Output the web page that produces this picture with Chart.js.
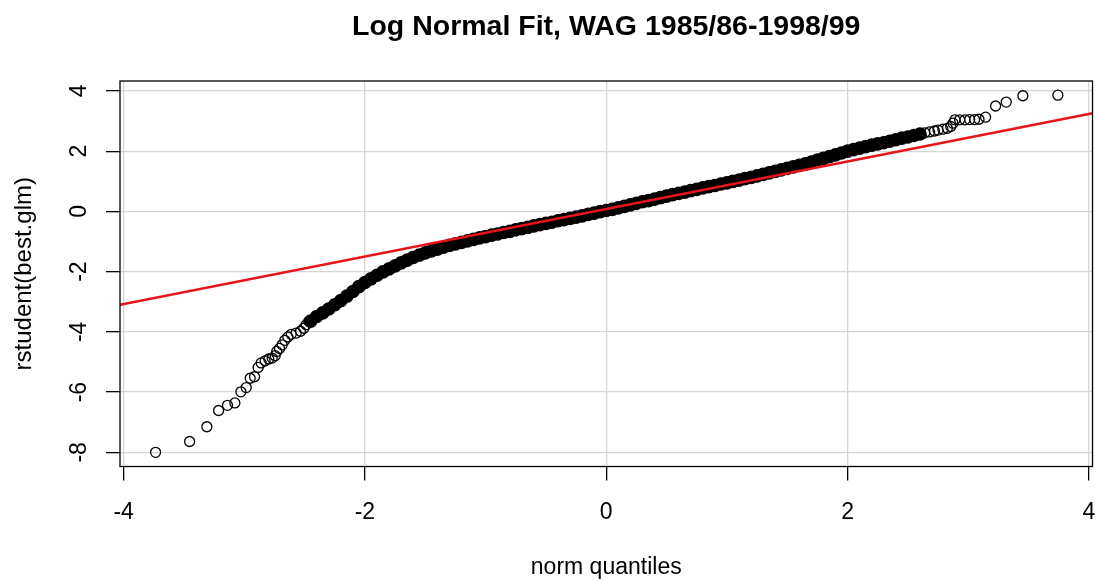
<!DOCTYPE html>
<html><head><meta charset="utf-8">
<script src="https://cdn.jsdelivr.net/npm/chart.js@4.4.1/dist/chart.umd.min.js"></script>
<style>html,body{margin:0;padding:0;background:#fff;}canvas{display:block;}</style>
</head><body>
<canvas id="c" width="1100" height="581"></canvas>
<script>
const titleText = 'Log Normal Fit, WAG 1985/86-1998/99';
const xAxisTitle = 'norm quantiles';
const yAxisTitle = 'rstudent(best.glm)';
const xTickValues = [-4, -2, 0, 2, 4];
const xTickLabels = ['-4', '-2', '0', '2', '4'];
const yTickValues = [-8, -6, -4, -2, 0, 2, 4];
const yTickLabels = ['-8', '-6', '-4', '-2', '0', '2', '4'];

// lower tail (individual points)
const lowTailX = [-3.735, -3.453, -3.310, -3.213, -3.139, -3.078, -3.028, -2.984, -2.951, -2.915, -2.885, -2.860, -2.827, -2.797, -2.769, -2.744, -2.731, -2.708, -2.686, -2.664, -2.639, -2.611, -2.570, -2.534, -2.507, -2.487, -2.465];
const lowTailY = [-8.00, -7.64, -7.15, -6.61, -6.44, -6.36, -5.99, -5.85, -5.54, -5.49, -5.18, -5.03, -4.96, -4.90, -4.87, -4.79, -4.65, -4.55, -4.43, -4.28, -4.17, -4.08, -4.04, -3.98, -3.88, -3.76, -3.65];

// dense body of the Q-Q plot
const bodyX = [-2.45, -2.40, -2.35, -2.30, -2.25, -2.20, -2.15, -2.10, -2.05, -2.00, -1.95, -1.90, -1.85, -1.80, -1.75, -1.70, -1.65, -1.60, -1.55, -1.50, -1.45, -1.40, -1.35, -1.30, -1.25, -1.20, -1.15, -1.10, -1.05, -1.00, -0.95, -0.90, -0.85, -0.80, -0.75, -0.70, -0.65, -0.60, -0.55, -0.50, -0.45, -0.40, -0.35, -0.30, -0.25, -0.20, -0.15, -0.10, -0.05, 0.00, 0.05, 0.10, 0.15, 0.20, 0.25, 0.30, 0.35, 0.40, 0.45, 0.50, 0.55, 0.60, 0.65, 0.70, 0.75, 0.80, 0.85, 0.90, 0.95, 1.00, 1.05, 1.10, 1.15, 1.20, 1.25, 1.30, 1.35, 1.40, 1.45, 1.50, 1.55, 1.60, 1.65, 1.70, 1.75, 1.80, 1.85, 1.90, 1.95, 2.00, 2.05, 2.10, 2.15, 2.20, 2.25, 2.30, 2.35, 2.40, 2.45, 2.50, 2.55, 2.60];
const bodyY = [-3.64, -3.49, -3.37, -3.24, -3.10, -2.96, -2.81, -2.66, -2.50, -2.36, -2.24, -2.12, -2.01, -1.91, -1.81, -1.71, -1.62, -1.53, -1.45, -1.38, -1.31, -1.25, -1.19, -1.13, -1.08, -1.03, -0.98, -0.93, -0.88, -0.84, -0.79, -0.75, -0.70, -0.66, -0.61, -0.57, -0.53, -0.48, -0.44, -0.40, -0.36, -0.31, -0.27, -0.23, -0.19, -0.15, -0.10, -0.06, -0.01, 0.03, 0.07, 0.12, 0.17, 0.22, 0.27, 0.32, 0.36, 0.41, 0.46, 0.51, 0.56, 0.60, 0.64, 0.69, 0.73, 0.78, 0.82, 0.86, 0.91, 0.95, 1.00, 1.04, 1.09, 1.13, 1.18, 1.23, 1.28, 1.33, 1.38, 1.43, 1.48, 1.53, 1.58, 1.64, 1.70, 1.76, 1.82, 1.88, 1.94, 2.00, 2.05, 2.10, 2.15, 2.20, 2.24, 2.28, 2.33, 2.38, 2.43, 2.47, 2.52, 2.57];

// upper tail (individual points)
const highTailX = [2.64, 2.68, 2.72, 2.75, 2.79, 2.827, 2.855, 2.874, 2.890, 2.929, 2.973, 3.012, 3.053, 3.089, 3.144, 3.227, 3.315, 3.453, 3.743];
const highTailY = [2.61, 2.64, 2.67, 2.70, 2.73, 2.76, 2.82, 2.93, 3.04, 3.04, 3.04, 3.05, 3.05, 3.06, 3.13, 3.50, 3.63, 3.84, 3.86];

// reference (qqline) endpoints at the plot edges
const fitLineX = [-4.03, 4.03];
const fitLineY = [-3.10, 3.26];

const pts = (xs, ys) => xs.map((x, i) => ({x: x, y: ys[i]}));
const FONT = "'Liberation Sans', Arial, sans-serif";

const boxPlugin = {
  id: 'box',
  afterDraw(chart) {
    const a = chart.chartArea, ctx = chart.ctx;
    ctx.save();
    ctx.strokeStyle = '#000';
    ctx.lineWidth = 1.3;
    ctx.strokeRect(a.left, a.top, a.right - a.left, a.bottom - a.top);
    ctx.restore();
  }
};

new Chart(document.getElementById('c'), {
  type: 'scatter',
  data: {
    datasets: [
      {
        type: 'line', label: 'qqline', data: pts(fitLineX, fitLineY),
        borderColor: '#e8141a', borderWidth: 2.6, pointRadius: 0, fill: false, order: 0
      },
      {
        label: 'lower', data: pts(lowTailX, lowTailY),
        pointRadius: 5, pointBorderWidth: 1.3, pointBorderColor: '#000', pointBackgroundColor: 'rgba(0,0,0,0)', order: 1
      },
      {
        label: 'body', data: pts(bodyX, bodyY),
        pointRadius: 6.2, pointBorderWidth: 1.3, pointBorderColor: '#000', pointBackgroundColor: '#000', order: 1
      },
      {
        label: 'upper', data: pts(highTailX, highTailY),
        pointRadius: 5, pointBorderWidth: 1.3, pointBorderColor: '#000', pointBackgroundColor: 'rgba(0,0,0,0)', order: 1
      }
    ]
  },
  options: {
    responsive: false,
    animation: false,
    events: [],
    layout: {padding: {left: 0, right: 6, top: 0, bottom: 0}},
    plugins: {
      legend: {display: false},
      tooltip: {enabled: false},
      title: {
        display: true, text: titleText, color: '#000', fullSize: false,
        font: {family: FONT, size: 28.5, weight: 'bold'},
        padding: {top: 10.5, bottom: 36.3}
      }
    },
    scales: {
      x: {
        type: 'linear', position: 'bottom', min: -4.03, max: 4.03,
        afterBuildTicks: s => { s.ticks = xTickValues.map(v => ({value: v})); },
        afterFit: s => { s.height = 114.5; s.paddingLeft = 0; s.paddingRight = 0; },
        ticks: {
          color: '#000', font: {family: FONT, size: 23}, padding: 18.2, maxRotation: 0, autoSkip: false,
          callback: (v) => xTickLabels[xTickValues.indexOf(v)]
        },
        grid: {color: '#d6d6d6', lineWidth: 1.3, drawTicks: true, tickLength: 14, tickColor: '#000', tickWidth: 1.3},
        border: {display: false},
        title: {display: true, text: xAxisTitle, color: '#000', font: {family: FONT, size: 23}, padding: {top: 0, bottom: 0}}
      },
      y: {
        type: 'linear', position: 'left', min: -8.47, max: 4.33,
        afterBuildTicks: s => { s.ticks = yTickValues.map(v => ({value: v})); },
        afterFit: s => { s.width = 120; s.paddingTop = 0; s.paddingBottom = 0; },
        ticks: {
          color: '#000', font: {family: FONT, size: 23}, padding: 15.8, minRotation: 90, maxRotation: 90,
          crossAlign: 'center', autoSkip: false,
          callback: (v) => yTickLabels[yTickValues.indexOf(v)]
        },
        grid: {color: '#d6d6d6', lineWidth: 1.3, drawTicks: true, tickLength: 14, tickColor: '#000', tickWidth: 1.3},
        border: {display: false},
        title: {display: true, text: yAxisTitle, color: '#000', font: {family: FONT, size: 24}, padding: {top: 9.6, bottom: 0}}
      }
    }
  },
  plugins: [boxPlugin]
});
</script>
</body></html>
